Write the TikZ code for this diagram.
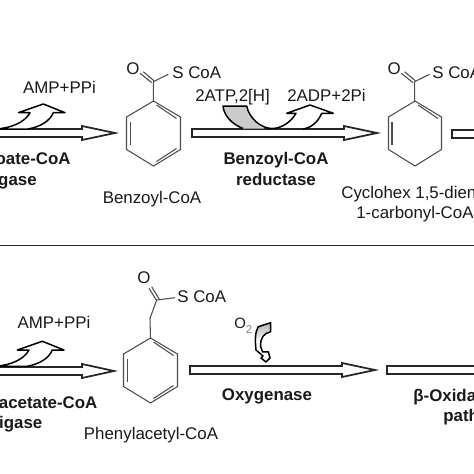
\documentclass[tikz,border=0pt]{standalone}
\usepackage{fontspec}
\setmainfont{Liberation Sans}
\usetikzlibrary{shadings}
\tikzset{
  plaintext/.style={inner sep=0pt, font=\fontsize{9.6pt}{11pt}\selectfont, text=black!90},
  boldtext/.style={plaintext, font=\fontsize{9.6pt}{11pt}\selectfont\bfseries},
  bondline/.style={line width=0.6pt, draw=black!70},
  blockline/.style={line width=1pt, draw=black!85, fill=white, line join=miter},
  sideline/.style={line width=0.85pt, draw=black, fill=white, line join=round},
}
\begin{document}
\begin{tikzpicture}[x=0.02cm, y=-0.02cm]
  \useasboundingbox (0,0) rectangle (474,474);
  \clip (0,0) rectangle (474,474);
  % separator
  \draw[line width=0.9pt, draw=black!85] (0,245.3) -- (474,245.3);
  % block arrows
  \foreach \xa/\xb/\xc/\yc in {-6/82/115/133, 192/344/377/133, -6/82/114/371, 190/342/375/370} {
    \draw[blockline] (\xa,\yc-4) -- (\xb,\yc-4) -- (\xb,\yc-7) -- (\xc,\yc) -- (\xb,\yc+7) -- (\xb,\yc+4) -- (\xa,\yc+4) -- cycle;
  }
  \foreach \xa/\yc in {452/134, 387/370} {
    \draw[blockline] (\xa,\yc-3.7) rectangle (480,\yc+3.7);
  }
  % side arrows
  \foreach \dx/\dy in {0/0, -1/237.3} {
    \draw[sideline, shift={(\dx,\dy)}] (-4,129) .. controls (12,128) and (25,122) .. (30,112.7)
      -- (18.3,112.7) -- (43.3,104) -- (65,112.7) -- (53.3,112.7)
      .. controls (50,121) and (40,127) .. (28,129) -- cycle;
  }
  % reductase arrow
  \fill[black!20] (223,106) -- (246.7,106) .. controls (249,117) and (256,125) .. (264,128.5)
    -- (243,128.5) .. controls (232,124) and (224,116) .. (223,106) -- cycle;
  \draw[sideline, fill=none] (243,128.5) .. controls (232,124) and (224,116) .. (223,106) -- (246.7,106)
    .. controls (249,118) and (261,129) .. (273,128.5) .. controls (282,128) and (291,122) .. (296,113.3)
    -- (286.7,113.3) -- (310,105) -- (333.3,113.3) -- (321.7,113.3)
    .. controls (318,122) and (311,128) .. (303,129);
  % oxygen arrow
  \draw[sideline, top color=black!30, bottom color=white, middle color=white] (258.3,326.7) -- (270.7,322.7) -- (270.7,331.7)
    .. controls (264,333) and (260,338) .. (260.7,346.7) -- (262.7,352) -- (268.3,351.7) -- (270,358)
    -- (266,362) -- (261,358) -- (263,356) -- (256,350)
    .. controls (255,340) and (255,332) .. (258.3,326.7) -- cycle;
  % rings
  \foreach \xc/\yc/\hw in {153.5/133.5/27, 415/133.5/26.5, 150.5/370.5/27} {
    \draw[bondline] (\xc,\yc-32.5) -- (\xc+\hw,\yc-16.5) -- (\xc+\hw,\yc+16) -- (\xc,\yc+32.5) -- (\xc-\hw,\yc+16) -- (\xc-\hw,\yc-16.5) -- cycle;
    \draw[bondline] (\xc+3,\yc-28.5) -- (\xc+23,\yc-15);
    \draw[bondline] (\xc-23,\yc-12) -- (\xc-23,\yc+11.5);
  }
  \draw[bondline] (156.5,161.5) -- (176.5,148.5);
  \draw[bondline] (153.5,398.5) -- (173.5,385.5);
  % carbonyl groups
  \foreach \dx in {0, 261.3} {
    \begin{scope}[xshift=\dx*0.02cm]
      \draw[bondline] (153.3,101) -- (153.3,81.7) -- (168.3,74.3);
      \draw[bondline] (140,73.3) -- (151.7,82.7);
      \draw[bondline] (143.3,71.7) -- (154,80.7);
    \end{scope}
  }
  \draw[bondline] (150.5,338) -- (150,318.3) -- (156.7,300) -- (175,297.7);
  \draw[bondline] (149,288.3) -- (156.7,300.7);
  \draw[bondline] (151.7,286.7) -- (159.3,299.3);
  % top row text
  \node[plaintext] (oxoa) at (133,68.5) {O};
  \node[plaintext, anchor=base west] (scoaa) at (172,78) {S CoA};
  \node[plaintext] (oxob) at (394.3,68.5) {O};
  \node[plaintext, anchor=base west] (scoab) at (432,78) {S CoA};
  \node[plaintext, anchor=base] (ampa) at (59.5,93.3) {AMP+PPi};
  \node[plaintext, anchor=base west] (atp) at (195,101) {2ATP,2[H]};
  \node[plaintext, anchor=base west] (adp) at (287,101) {2ADP+2Pi};
  \node[boldtext, anchor=base east] (ligaseaa) at (71,164) {oate-CoA};
  \node[boldtext, anchor=base east] (ligaseab) at (37,185) {gase};
  \node[boldtext, anchor=base] (reductasea) at (276,164) {Benzoyl-CoA};
  \node[boldtext, anchor=base] (reductaseb) at (276,185) {reductase};
  \node[plaintext, anchor=base] (benzoyl) at (152,203) {Benzoyl-CoA};
  \node[plaintext, anchor=base west] (cycloa) at (341,198) {Cyclohex 1,5-dien};
  \node[plaintext, anchor=base west] (cyclob) at (356,218.3) {1-carbonyl-CoA};
  % bottom row text
  \node[plaintext] (oxoc) at (144,277.7) {O};
  \node[plaintext, anchor=base west] (scoac) at (177,302) {S CoA};
  \node[plaintext, anchor=base] (ampb) at (54,328.3) {AMP+PPi};
  \node[plaintext, anchor=base west] (oxygen) at (234,328) {\fontsize{8.5pt}{9pt}\selectfont O\raisebox{-3pt}{\fontsize{6.5pt}{7pt}\selectfont\color{black!50}2}};
  \node[boldtext, anchor=base east] (ligaseba) at (97.7,408.3) {acetate-CoA};
  \node[boldtext, anchor=base east] (ligasebb) at (42.7,428.3) {igase};
  \node[plaintext, anchor=base] (phenyl) at (151,439.3) {Phenylacetyl-CoA};
  \node[boldtext, anchor=base] (oxygenase) at (267,400) {Oxygenase};
  \node[boldtext, anchor=base west] (oxida) at (413,401.7) {β-Oxida};
  \node[boldtext, anchor=base west] (path) at (443,421.7) {path};
\end{tikzpicture}
\end{document}
